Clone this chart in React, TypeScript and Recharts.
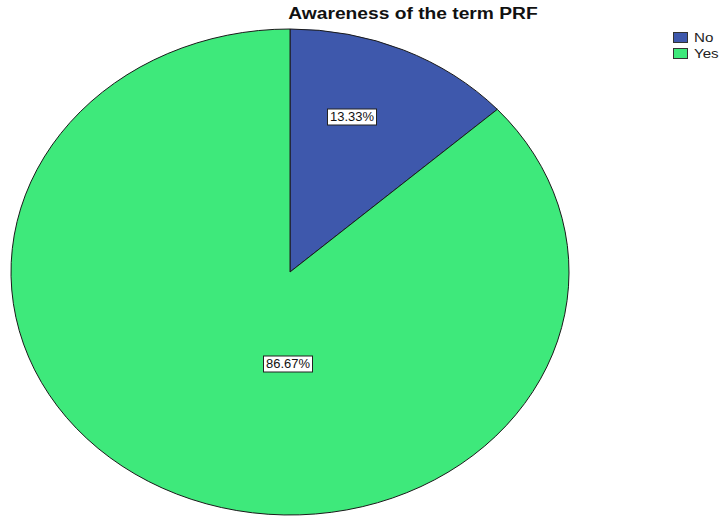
import React from "react";
import { PieChart, Pie, Cell, Legend } from "recharts";

const categories = ["No", "Yes"];
const percentages = [13.33, 86.67];
const colors = ["#3E58AC", "#3EE97B"];

const data = categories.map((name, i) => ({ name, value: percentages[i] }));

const CX = 290;
const CY = 272;
const RX = 279;
const KY = 243 / 279;

const RAD = Math.PI / 180;
const FONT = "Liberation Sans, Arial, sans-serif";

const EllipseSector = (props: any) => {
  const { cx, cy, outerRadius, startAngle, endAngle, fill } = props;
  const rx = outerRadius;
  const ry = outerRadius * KY;
  const x1 = cx + rx * Math.cos(startAngle * RAD);
  const y1 = cy - ry * Math.sin(startAngle * RAD);
  const x2 = cx + rx * Math.cos(endAngle * RAD);
  const y2 = cy - ry * Math.sin(endAngle * RAD);
  const span = Math.abs(endAngle - startAngle);
  const large = span > 180 ? 1 : 0;
  const sweep = endAngle < startAngle ? 1 : 0;
  const d = `M${cx},${cy} L${x1},${y1} A${rx},${ry} 0 ${large} ${sweep} ${x2},${y2} Z`;
  return <path d={d} fill={fill} stroke="#1a1a1a" strokeWidth={1} strokeLinejoin="round" />;
};

const labelOffsets = [
  { dx: 62, dy: -155 },
  { dx: -2, dy: 92 },
];

const renderLabel = (props: any) => {
  const { cx, cy, index, value } = props;
  const off = labelOffsets[index] || { dx: 0, dy: 0 };
  const x = cx + off.dx;
  const y = cy + off.dy;
  const text = `${Number(value).toFixed(2)}%`;
  const w = 49;
  const h = 16;
  return (
    <g>
      <rect x={x - w / 2} y={y - h / 2} width={w} height={h} fill="#ffffff" stroke="#222" strokeWidth={1} />
      <text
        x={x}
        y={y + 0.5}
        textAnchor="middle"
        dominantBaseline="middle"
        fontFamily={FONT}
        fontSize={12.5}
        fill="#111"
        textLength={44}
        lengthAdjust="spacingAndGlyphs"
      >
        {text}
      </text>
    </g>
  );
};

const renderLegend = (props: any) => {
  const { payload } = props;
  return (
    <div style={{ fontFamily: FONT, fontSize: 13.5, color: "#222" }}>
      {(payload || []).map((entry: any, i: number) => (
        <div key={i} style={{ display: "flex", alignItems: "center", height: 16 }}>
          <span
            style={{
              display: "inline-block",
              width: 15,
              height: 11,
              background: entry.color,
              border: "1px solid #333",
              marginRight: 6,
              boxSizing: "border-box",
            }}
          />
          <span style={{ display: "inline-block", transform: "scaleX(1.12)", transformOrigin: "left center" }}>
            {entry.value}
          </span>
        </div>
      ))}
    </div>
  );
};

export default function App() {
  return (
    <div style={{ position: "absolute", left: 0, top: 0, width: 722, height: 516, background: "#fff" }}>
      <div
        style={{
          position: "absolute",
          left: 0,
          width: 826,
          top: 5,
          textAlign: "center",
          fontFamily: FONT,
          fontWeight: "bold",
          fontSize: 16,
          color: "#111",
          transform: "scaleX(1.2)",
          transformOrigin: "413px 0",
        }}
      >
        Awareness of the term PRF
      </div>
      <PieChart
        width={722}
        height={516}
        margin={{ top: 0, right: 0, bottom: 0, left: 0 }}
        style={{ position: "absolute", left: 0, top: 0 }}
      >
        <Pie
          data={data}
          dataKey="value"
          nameKey="name"
          cx={CX}
          cy={CY}
          outerRadius={RX}
          startAngle={90}
          endAngle={-270}
          shape={EllipseSector}
          label={renderLabel}
          labelLine={false}
          isAnimationActive={false}
        >
          {data.map((d, i) => (
            <Cell key={d.name} fill={colors[i]} />
          ))}
        </Pie>
        <Legend
          layout="vertical"
          verticalAlign="top"
          align="right"
          content={renderLegend}
          wrapperStyle={{ position: "absolute", left: 673, top: 29, width: 50 }}
        />
      </PieChart>
    </div>
  );
}
